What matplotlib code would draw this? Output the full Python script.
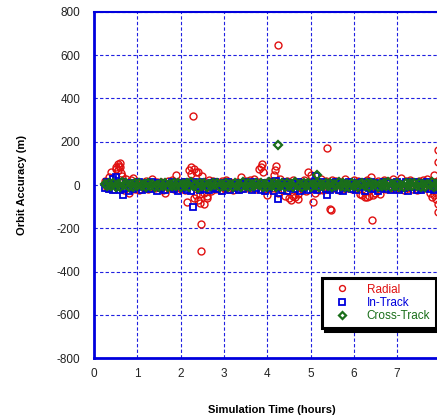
import numpy as np
import matplotlib
matplotlib.use('Agg')
import matplotlib.pyplot as plt
from matplotlib.ticker import FixedLocator

plt.rcParams['font.family'] = ['Liberation Sans', 'DejaVu Sans']
plt.rcParams['axes.unicode_minus'] = False

# sample times (hours) for the dense band
t_band = [0.25, 0.30, 0.35, 0.40, 0.45, 0.50, 0.55, 0.60, 0.65, 0.70, 0.75, 0.80, 0.85,
          0.90, 0.95, 1.00, 1.05, 1.10, 1.15, 1.20, 1.25, 1.30, 1.35, 1.40, 1.45, 1.50,
          1.55, 1.60, 1.65, 1.70, 1.75, 1.80, 1.85, 1.90, 1.95, 2.00, 2.05, 2.10, 2.15,
          2.20, 2.25, 2.30, 2.35, 2.40, 2.45, 2.50, 2.55, 2.60, 2.65, 2.70, 2.75, 2.80,
          2.85, 2.90, 2.95, 3.00, 3.05, 3.10, 3.15, 3.20, 3.25, 3.30, 3.35, 3.40, 3.45,
          3.50, 3.55, 3.60, 3.65, 3.70, 3.75, 3.80, 3.85, 3.90, 3.95, 4.00, 4.05, 4.10,
          4.15, 4.20, 4.25, 4.30, 4.35, 4.40, 4.45, 4.50, 4.55, 4.60, 4.65, 4.70, 4.75,
          4.80, 4.85, 4.90, 4.95, 5.00, 5.05, 5.10, 5.15, 5.20, 5.25, 5.30, 5.35, 5.40,
          5.45, 5.50, 5.55, 5.60, 5.65, 5.70, 5.75, 5.80, 5.85, 5.90, 5.95, 6.00, 6.05,
          6.10, 6.15, 6.20, 6.25, 6.30, 6.35, 6.40, 6.45, 6.50, 6.55, 6.60, 6.65, 6.70,
          6.75, 6.80, 6.85, 6.90, 6.95, 7.00, 7.05, 7.10, 7.15, 7.20, 7.25, 7.30, 7.35,
          7.40, 7.45, 7.50, 7.55, 7.60, 7.65, 7.70, 7.75, 7.80, 7.85, 7.90, 7.95, 8.00]

radial = [20, -15, 35, 60, -20, 75, 95, 85, 40, -25, 30, -35, 25,
          32, -18, 15, -22, 10, -12, 18, -20, 8, 28, -15, 12, -10,
          14, -25, -37, 20, -14, 22, -18, 46, 12, -20, 16, -22, -77,
          70, 85, -60, -45, 60, -85, 40, -35, -50, 25, -30, 18, -20,
          15, -22, 20, -14, 24, -18, 12, -25, 10, 16, -20, 37, -15,
          18, -12, 22, -16, 30, -20, 14, 85, 60, -25, -46, 20, -15,
          46, 90, -35, 30, -25, -50, 18, -60, -69, 22, -55, -40, 15,
          -20, 24, -30, 62, 45, -79, -35, 18, -22, 30, -25, 20, -18,
          -111, 25, -15, 20, -22, 14, -18, 30, -12, 16, -20, 24, -14,
          18, -40, -46, -55, 22, -50, 37, -45, -38, 20, -42, -15, 25,
          -18, 20, -12, 28, -20, 15, -16, 32, -22, 18, -14, 25, -20,
          16, -24, 20, -18, 22, -15, 28, -35, -55, 46, -30, -125, 20]

in_track = [-12, 15, -20, 8, -25, 18, -8, -22, 12, -15, 5, -28, 10,
            -18, 6, -10, 14, -24, 3, -14, 9, -20, 12, -6, -26, 7,
            -16, 11, -22, 4, -9, 16, -19, 2, -27, 10, -12, 13, -21,
            8, -30, 15, -11, 5, -24, 12, -17, 3, -23, 9, -13, 14,
            -20, 6, -26, 11, -8, 15, -22, 4, -14, 10, -25, 7, -18,
            13, -10, 5, -24, 16, -15, 2, -21, 11, -28, 8, -12, 15,
            -26, 18, -9, 6, -23, 12, -30, 4, -16, 10, -20, 14, -27,
            5, -13, 11, -22, 8, -17, 15, -25, 3, -11, 12, -19, 7,
            -24, 10, -14, 16, -21, 4, -28, 9, -12, 13, -18, 6, -23,
            11, -9, 15, -26, 5, -16, 12, -20, 8, -29, 3, -13, 14,
            -19, 7, -24, 10, -11, 16, -22, 4, -15, 12, -27, 9, -8,
            13, -21, 6, -25, 11, -14, 15, -18, 3, -23, 8, -12, 10]

cross_track = [4, -6, 9, -3, 11, -8, 6, -10, 12, -2, 8, -7, 5,
               -9, 7, -4, 10, -6, 3, -11, 8, -5, 6, -8, 2, -7,
               9, -3, 7, -10, 5, -6, 11, -4, 8, -9, 3, -5, 10,
               -7, 12, -4, 6, -12, 9, -3, 7, -8, 4, -6, 10, -2,
               8, -9, 5, -4, 11, -7, 3, -10, 9, -5, 6, -8, 12,
               -3, 7, -11, 4, -6, 10, -2, 8, -9, 5, -7, 13, -4,
               9, -8, 6, -3, 11, -10, 7, -5, 4, -9, 12, -6, 3,
               -7, 10, -4, 8, -11, 5, -2, 9, -8, 6, -5, 11, -3,
               7, -10, 4, -6, 12, -3, 8, -9, 5, -7, 10, -4, 6,
               -11, 3, 9, -5, 7, -8, 11, -2, 6, -10, 4, -6, 8,
               -3, 12, -9, 5, -4, 10, -7, 2, -11, 8, -5, 7, -6,
               11, -3, 9, -8, 4, -10, 6, -2, 12, -7, 5, -9, 3]

# isolated points off the band
t_rad_extra = [0.50, 0.55, 0.58, 0.60, 0.62, 2.25, 2.29, 2.30, 2.35, 2.40, 2.45, 2.47, 2.47,
               2.55, 2.60, 3.82, 3.87, 4.18, 4.24, 4.60, 4.70, 5.38, 5.48, 6.30, 6.42, 6.50,
               7.85, 7.90, 7.95, 7.95, 7.95]
y_rad_extra = [85, 70, 90, 100, 55, 50, 319, 75, 60, -70, -40, -182, -304,
               -90, -60, 75, 95, 70, 647, -50, -65, 172, -116, -55, -163, -35,
               -45, -65, 160, 106, -90]

t_in_extra = [0.45, 0.50, 0.68, 2.29, 4.24, 5.12, 5.37]
y_in_extra = [30, 35, -46, -102, -65, 40, -46]

t_cross_extra = [4.24, 5.15]
y_cross_extra = [185, 45]

x_ticks = [0, 1, 2, 3, 4, 5, 6, 7]
y_ticks = [-800, -600, -400, -200, 0, 200, 400, 600, 800]

red = '#e01010'
blue = '#0000dd'
green = '#1a6e1a'

fig = plt.figure(figsize=(4.37, 4.19), dpi=100)
# axis runs past the right edge of the picture
ax = fig.add_axes([94 / 437, 61 / 419, 8.2 * 43.3 / 437, 346 / 419])

ax.plot(t_band + t_rad_extra, radial + y_rad_extra, linestyle='none', marker='o',
        ms=5.0, mfc='none', mec=red, mew=1.0, label='Radial')
ax.plot(t_band + t_in_extra, in_track + y_in_extra, linestyle='none', marker='s',
        ms=4.8, mfc='none', mec=blue, mew=1.3, label='In-Track')
ax.plot(t_band + t_cross_extra, cross_track + y_cross_extra, linestyle='none', marker='D',
        ms=4.2, mfc='none', mec=green, mew=1.6, label='Cross-Track')

ax.set_xlim(0, 8.2)
ax.set_ylim(-800, 800)
ax.xaxis.set_major_locator(FixedLocator(x_ticks + [8]))
ax.set_xticklabels([str(v) for v in x_ticks] + [''])
ax.yaxis.set_major_locator(FixedLocator(y_ticks))
ax.grid(True, which='major', color='#2020e0', linestyle=(0, (3, 2)), linewidth=0.8)
ax.set_axisbelow(True)

for side in ['left', 'bottom', 'top', 'right']:
    ax.spines[side].set_color(blue)
    ax.spines[side].set_linewidth(1.5)
ax.spines['left'].set_linewidth(2.0)
ax.spines['bottom'].set_linewidth(2.0)
ax.tick_params(direction='in', length=0, labelsize=8.5, pad=10, colors='#222222')
ax.tick_params(axis='x', pad=7)

ax.set_xlabel('Simulation Time (hours)', fontsize=8, fontweight='bold', labelpad=18)
ax.set_ylabel('Orbit Accuracy (m)', fontsize=8, fontweight='bold', labelpad=21)

leg = ax.legend(loc='upper right', bbox_to_anchor=(342 / 355, 0.232), borderaxespad=0,
                fancybox=False, shadow={'color': 'black', 'alpha': 1.0}, edgecolor='black',
                fontsize=8.5, handletextpad=0.9, borderpad=0.5, labelspacing=0.1,
                framealpha=1.0, markerscale=0.85, handlelength=2.4)
leg.get_frame().set_linewidth(2.2)
for text, col in zip(leg.get_texts(), [red, blue, green]):
    text.set_color(col)

fig.savefig('out.png', dpi=100)
